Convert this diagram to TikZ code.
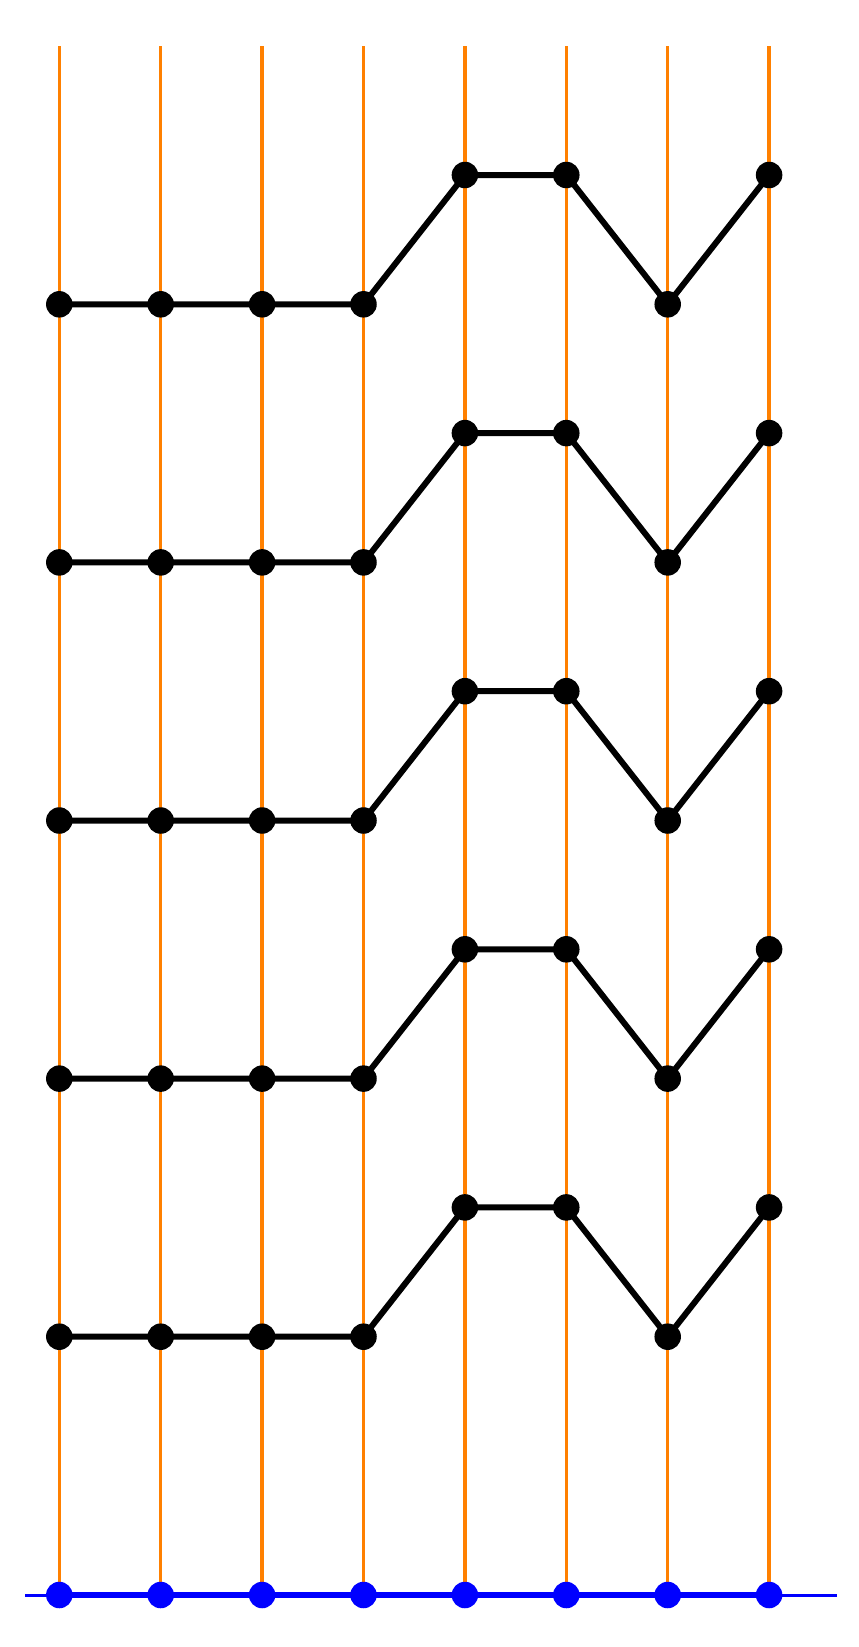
\documentclass[tikz,border=0pt]{standalone}
\definecolor{orng}{RGB}{255,128,0}
\begin{document}
\begin{tikzpicture}[x=1pt,y=-1pt,
  dot/.style={circle,fill=black,inner sep=0pt,minimum size=26.5pt},
  bdot/.style={circle,fill=blue,inner sep=0pt,minimum size=26.5pt},
  vline/.style={orng,line width=3.5pt},
  chain/.style={black,line width=6pt},
  axis/.style={blue,line width=3pt},
  axisthick/.style={blue,line width=5.5pt}]
\useasboundingbox (0,0) rectangle (859,1647);
\foreach \i in {0,...,7}{
  \coordinate (t\i) at ({59.3+101.4*\i},46);
  \coordinate (b\i) at ({59.3+101.4*\i},1595);
}
\coordinate (axl) at (25,1595);
\coordinate (axr) at (837,1595);
\foreach \i in {0,...,7}{ \draw[vline] (t\i) -- (b\i); }
\draw[axis] (axl) -- (axr);
\draw[axisthick] (b0) -- (b7);
\foreach \k in {0,...,4}{
  \foreach \i/\off in {0/0,1/0,2/0,3/0,4/-129.3,5/-129.3,6/0,7/-129.3}{
    \coordinate (p\k-\i) at ({59.3+101.4*\i},{304.3+258.1*\k+\off});
  }
  \draw[chain] (p\k-0) -- (p\k-1) -- (p\k-2) -- (p\k-3) -- (p\k-4) -- (p\k-5) -- (p\k-6) -- (p\k-7);
  \foreach \i in {0,...,7}{ \node[dot] (n\k-\i) at (p\k-\i) {}; }
}
\foreach \i in {0,...,7}{ \node[bdot] (bd\i) at (b\i) {}; }
\end{tikzpicture}
\end{document}
